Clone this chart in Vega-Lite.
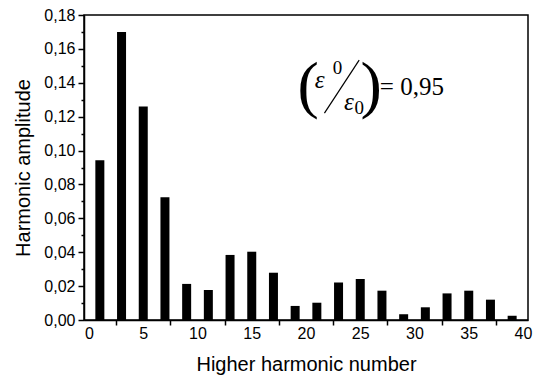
{
  "$schema": "https://vega.github.io/schema/vega-lite/v6.json",
  "width": 444,
  "height": 305,
  "autosize": {"type": "none"},
  "padding": {"left": 84, "top": 15, "right": 18, "bottom": 58},
  "background": "white",
  "config": {
    "locale": {"number": {"decimal": ",", "thousands": ".", "grouping": [3], "currency": ["", ""]}},
    "view": {"stroke": "black", "strokeWidth": 1.5},
    "font": "Liberation Sans",
    "axis": {"domainColor": "black", "domainWidth": 1.5, "tickColor": "black", "tickWidth": 1.5, "labelColor": "black", "titleColor": "black", "labelFont": "Liberation Sans", "titleFont": "Liberation Sans", "labelFontSize": 16, "titleFontSize": 20, "titleFontWeight": "normal", "grid": false, "labelOverlap": false}
  },
  "datasets": {
    "bars": [
      {"n": 1, "a": 0.0943},
      {"n": 3, "a": 0.1700},
      {"n": 5, "a": 0.1260},
      {"n": 7, "a": 0.0724},
      {"n": 9, "a": 0.0213},
      {"n": 11, "a": 0.0177},
      {"n": 13, "a": 0.0384},
      {"n": 15, "a": 0.0403},
      {"n": 17, "a": 0.0279},
      {"n": 19, "a": 0.0083},
      {"n": 21, "a": 0.0102},
      {"n": 23, "a": 0.0222},
      {"n": 25, "a": 0.0242},
      {"n": 27, "a": 0.0173},
      {"n": 29, "a": 0.0034},
      {"n": 31, "a": 0.0075},
      {"n": 33, "a": 0.0157},
      {"n": 35, "a": 0.0173},
      {"n": 37, "a": 0.0120},
      {"n": 39, "a": 0.0025}
    ],
    "parens": [
      {"n": 20.2, "a": 0.1375, "t": "("},
      {"n": 26.0, "a": 0.1375, "t": ")"}
    ],
    "eps": [
      {"n": 20.8, "a": 0.1415, "t": "ε"},
      {"n": 23.5, "a": 0.1285, "t": "ε"}
    ],
    "eq": [
      {"n": 26.8, "a": 0.1375, "t": "= 0,95"}
    ],
    "small": [
      {"n": 22.9, "a": 0.1487, "t": "0"},
      {"n": 24.9, "a": 0.1250, "t": "0"}
    ],
    "slash": [
      {"n": 21.7, "a": 0.1221, "n2": 24.9, "a2": 0.1534}
    ]
  },
  "encoding": {
    "x": {
      "field": "n", "type": "quantitative",
      "scale": {"domain": [0, 40], "nice": false, "zero": false},
      "axis": {
        "title": "Higher harmonic number",
        "values": [0, 2.5, 5, 7.5, 10, 12.5, 15, 17.5, 20, 22.5, 25, 27.5, 30, 32.5, 35, 37.5, 40],
        "labelExpr": "datum.value % 5 == 0 ? format(datum.value, 'd') : ''",
        "tickSize": {"condition": {"test": "datum.value % 5 == 0", "value": 0}, "value": 5},
        "labelOverlap": false,
        "labelPadding": 5,
        "titlePadding": 8,
        "labelFlush": false
      }
    },
    "y": {
      "field": "a", "type": "quantitative",
      "scale": {"domain": [0, 0.18], "nice": false},
      "axis": {
        "title": "Harmonic amplitude",
        "values": [0, 0.01, 0.02, 0.03, 0.04, 0.05, 0.06, 0.07, 0.08, 0.09, 0.1, 0.11, 0.12, 0.13, 0.14, 0.15, 0.16, 0.17, 0.18],
        "labelExpr": "round(datum.value * 100) % 2 == 0 ? format(datum.value, '.2f') : ''",
        "tickSize": {"condition": {"test": "round(datum.value * 100) % 2 == 1", "value": 3}, "value": 6},
        "labelOverlap": false,
        "labelPadding": 3,
        "titlePadding": 10,
        "labelFlush": false
      }
    }
  },
  "layer": [
    {
      "data": {"name": "bars"},
      "mark": {"type": "bar", "color": "black", "size": 9}
    },
    {
      "data": {"name": "parens"},
      "mark": {"type": "text", "font": "Liberation Serif", "fontSize": 64, "color": "black", "align": "center", "baseline": "middle", "fontWeight": 100},
      "encoding": {"text": {"field": "t"}}
    },
    {
      "data": {"name": "eps"},
      "mark": {"type": "text", "font": "Liberation Serif", "fontSize": 25, "fontStyle": "italic", "color": "black", "align": "left", "baseline": "middle"},
      "encoding": {"text": {"field": "t"}}
    },
    {
      "data": {"name": "eq"},
      "mark": {"type": "text", "font": "Liberation Serif", "fontSize": 25, "color": "black", "align": "left", "baseline": "middle"},
      "encoding": {"text": {"field": "t"}}
    },
    {
      "data": {"name": "small"},
      "mark": {"type": "text", "font": "Liberation Serif", "fontSize": 19, "color": "black", "align": "center", "baseline": "middle"},
      "encoding": {"text": {"field": "t"}}
    },
    {
      "data": {"name": "slash"},
      "mark": {"type": "rule", "color": "black", "strokeWidth": 1.2},
      "encoding": {
        "x2": {"field": "n2"},
        "y2": {"field": "a2"}
      }
    }
  ]
}
